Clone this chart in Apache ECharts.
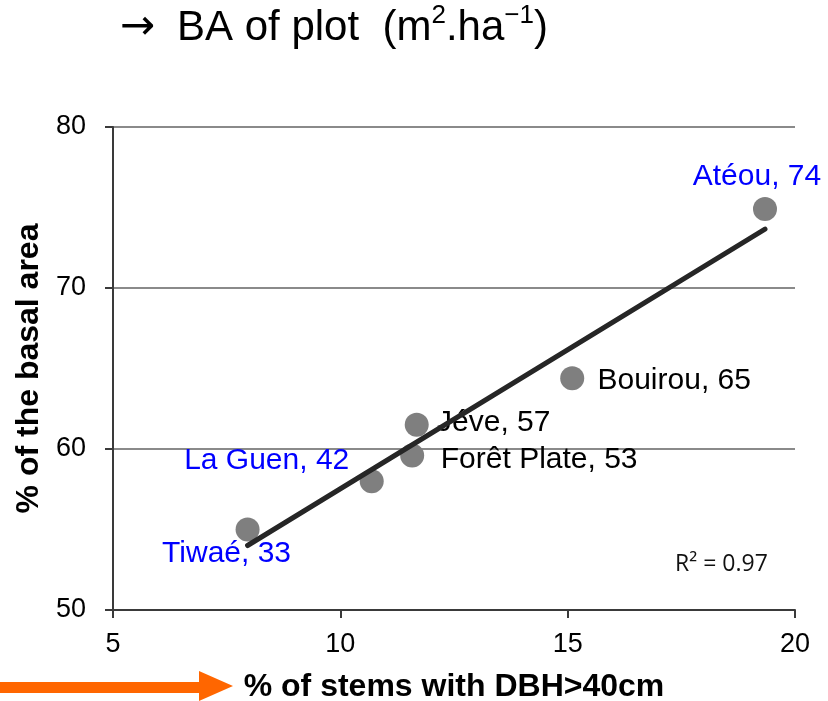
<!DOCTYPE html>
<html>
<head>
<meta charset="utf-8">
<script src="https://cdn.jsdelivr.net/npm/echarts@6/dist/echarts.min.js"></script>
<style>
  html, body { margin: 0; padding: 0; background: #fff; }
  #chart { width: 828px; height: 701px; }
</style>
</head>
<body>
<div id="chart"></div>
<script>
// Plot sites: share of stems with DBH > 40 cm vs share of basal area
const sites = ['Tiwaé', 'La Guen', 'Forêt Plate', 'Jéve', 'Bouirou', 'Atéou'];
const stemsOver40 = [7.96, 10.69, 11.58, 11.68, 15.10, 19.34];   // % of stems with DBH>40cm
const basalAreaShare = [55.0, 58.0, 59.6, 61.5, 64.4, 74.9];      // % of the basal area
const plotBA = [33, 42, 53, 57, 65, 74];                          // BA of plot (m².ha⁻¹)
const rSquaredText = '0.97';
const xTicks = [5, 10, 15, 20];
const yTicks = [50, 60, 70, 80];

// Label placement and colour per site (offset of label centre from the marker)
const labelStyle = {
  'Tiwaé': { color: '#0000ff', offset: [-21, 24] },
  'La Guen': { color: '#0000ff', offset: [-105, -20] },
  'Forêt Plate': { color: '#000000', offset: [127, 4] },
  'Jéve': { color: '#000000', offset: [77, -2] },
  'Bouirou': { color: '#000000', offset: [102, 3] },
  'Atéou': { color: '#0000ff', offset: [-8, -32] }
};

// Least-squares trend line over the sites
function linearFit(xs, ys) {
  const n = xs.length;
  const mx = xs.reduce((a, b) => a + b, 0) / n;
  const my = ys.reduce((a, b) => a + b, 0) / n;
  let sxy = 0, sxx = 0;
  for (let i = 0; i < n; i++) {
    sxy += (xs[i] - mx) * (ys[i] - my);
    sxx += (xs[i] - mx) * (xs[i] - mx);
  }
  const slope = sxy / sxx;
  return { slope, intercept: my - slope * mx };
}
const fit = linearFit(stemsOver40, basalAreaShare);
const xLo = Math.min(...stemsOver40);
const xHi = Math.max(...stemsOver40);
const trend = [
  [xLo, fit.intercept + fit.slope * xLo],
  [xHi, fit.intercept + fit.slope * xHi]
];

const FONT = 'Liberation Sans, Arial, sans-serif';

const points = sites.map((name, i) => ({
  name,
  value: [stemsOver40[i], basalAreaShare[i]],
  label: {
    show: true,
    position: 'inside',
    align: 'center',
    verticalAlign: 'middle',
    offset: labelStyle[name].offset,
    formatter: name + ', ' + plotBA[i],
    color: labelStyle[name].color,
    opacity: 1,
    fontFamily: FONT,
    fontSize: 30
  }
}));

const chart = echarts.init(document.getElementById('chart'), null, { renderer: 'canvas' });

chart.setOption({
  animation: false,
  backgroundColor: '#ffffff',
  title: {
    left: 120,
    top: 3,
    padding: 0,
    text: '{r|→}{a|BA of plot  (m}{s|2}{a|.ha}{s|−1}{a|)}',
    textStyle: {
      rich: {
        r: { fontFamily: 'DejaVu Sans', fontSize: 42, fontWeight: 'normal', color: '#000', lineHeight: 50, width: 57, verticalAlign: 'middle' },
        a: { fontFamily: FONT, fontSize: 42, fontWeight: 'normal', color: '#000', lineHeight: 50, verticalAlign: 'middle' },
        s: { fontFamily: FONT, fontSize: 26, fontWeight: 'normal', color: '#000', lineHeight: 48, verticalAlign: 'top' }
      }
    }
  },
  grid: { left: 113, right: 33, top: 127, bottom: 91, containLabel: false, outerBoundsMode: 'none' },
  xAxis: {
    type: 'value',
    min: xTicks[0],
    max: xTicks[xTicks.length - 1],
    interval: 5,
    name: '% of stems with DBH>40cm',
    nameLocation: 'middle',
    nameGap: 61,
    nameTextStyle: { fontFamily: FONT, fontSize: 32, fontWeight: 'bold', color: '#000' },
    axisLine: { show: true, onZero: false, lineStyle: { color: '#3a3a3a', width: 2 } },
    axisTick: { show: true, inside: false, length: 8, lineStyle: { color: '#3a3a3a', width: 2 } },
    axisLabel: { fontFamily: FONT, fontSize: 27, color: '#000', margin: 21 },
    splitLine: { show: false }
  },
  yAxis: {
    type: 'value',
    min: yTicks[0],
    max: yTicks[yTicks.length - 1],
    interval: 10,
    name: '% of the basal area',
    nameLocation: 'middle',
    nameRotate: 90,
    nameGap: 62,
    nameTextStyle: { fontFamily: FONT, fontSize: 32, fontWeight: 'bold', color: '#000' },
    axisLine: { show: true, onZero: false, lineStyle: { color: '#3a3a3a', width: 2 } },
    axisTick: { show: true, inside: false, length: 8, lineStyle: { color: '#3a3a3a', width: 2 } },
    axisLabel: { fontFamily: FONT, fontSize: 27, color: '#000', margin: 27 },
    splitLine: { show: true, lineStyle: { color: '#8a8a8a', width: 2 } }
  },
  series: [
    {
      type: 'scatter',
      symbol: 'circle',
      symbolSize: 24,
      itemStyle: { color: '#7f7f7f', opacity: 1 },
      data: points,
      z: 2
    },
    {
      type: 'line',
      data: trend,
      showSymbol: false,
      symbol: 'none',
      lineStyle: { color: '#262626', width: 5, cap: 'round' },
      silent: true,
      z: 3
    }
  ],
  graphic: [
    {
      type: 'text',
      left: 675,
      top: 553,
      style: {
        text: 'R² = ' + rSquaredText,
        font: '23px "Open Sans", sans-serif',
        fill: '#111'
      }
    },
    {
      type: 'polygon',
      shape: {
        points: [[0, 682], [199, 682], [199, 671], [233, 686], [199, 701], [199, 693], [0, 693]]
      },
      style: { fill: '#ff6600' }
    }
  ]
});
</script>
</body>
</html>
